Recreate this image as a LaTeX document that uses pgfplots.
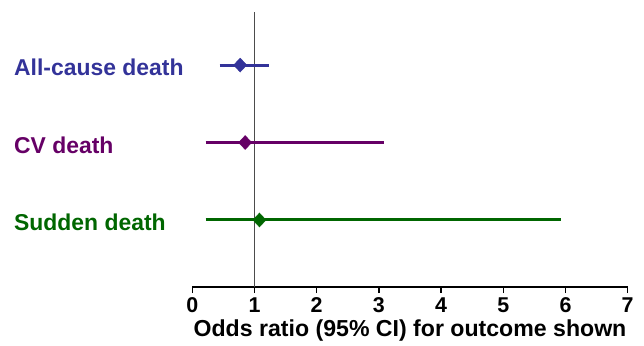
\documentclass[border=0pt]{standalone}
\usepackage{pgfplots}
\pgfplotsset{compat=1.18}
\usepackage{fontspec}
\setmainfont{Liberation Sans}
\definecolor{cblue}{RGB}{51,51,153}
\definecolor{cpurple}{RGB}{102,0,102}
\definecolor{cgreen}{RGB}{0,102,0}
\begin{document}
\begin{tikzpicture}
\begin{axis}[
  scale only axis,
  width=435.4bp, height=275bp,
  xmin=0, xmax=7, ymin=0.135, ymax=3.685,
  axis x line=bottom, axis y line=none,
  axis line style={-, line width=1.3bp},
  xtick={0,1,2,3,4,5,6,7},
  tick align=outside,
  major tick length=6bp,
  tick style={line width=1.3bp, black},
  /pgf/number format/assume math mode=true,
  ticklabel style={font=\fontsize{21.5}{24}\selectfont\bfseries},
  xticklabel shift=1bp,
  xlabel={Odds ratio (95\% CI) for outcome shown},
  xlabel style={font=\fontsize{23.2}{26}\selectfont\bfseries, inner sep=0pt,
    at={(axis description cs:0.5,0)}, anchor=north, yshift=-32.5bp},
  clip=false,
]
\addplot[gray!60!black, line width=1.5bp] coordinates {(1,0.135) (1,3.685)};
% All-cause death
\addplot[cblue, line width=3bp] coordinates {(0.44,3) (1.23,3)};
\addplot[cblue, only marks, mark=diamond*, mark size=7bp, mark options={xscale=1.25}] coordinates {(0.77,3)};
% CV death
\addplot[cpurple, line width=3bp] coordinates {(0.215,2) (3.08,2)};
\addplot[cpurple, only marks, mark=diamond*, mark size=7bp, mark options={xscale=1.25}] coordinates {(0.85,2)};
% Sudden death
\addplot[cgreen, line width=3bp] coordinates {(0.215,1) (5.92,1)};
\addplot[cgreen, only marks, mark=diamond*, mark size=7bp, mark options={xscale=1.25}] coordinates {(1.08,1)};
\node[anchor=west, text=cblue, font=\fontsize{23}{26}\selectfont\bfseries, inner sep=0pt] at ([xshift=-178.3bp, yshift=-2.5bp]axis cs:0,3) {All-cause death};
\node[anchor=west, text=cpurple, font=\fontsize{23}{26}\selectfont\bfseries, inner sep=0pt] at ([xshift=-178.3bp, yshift=-2.5bp]axis cs:0,2) {CV death};
\node[anchor=west, text=cgreen, font=\fontsize{23}{26}\selectfont\bfseries, inner sep=0pt] at ([xshift=-178.3bp, yshift=-2.5bp]axis cs:0,1) {Sudden death};
\coordinate (sw) at (rel axis cs:0,0);
\end{axis}
\pgfresetboundingbox
\path ([xshift=-192.3bp, yshift=-59bp]sw) rectangle ([xshift=451.7bp, yshift=287bp]sw);
\end{tikzpicture}
\end{document}
